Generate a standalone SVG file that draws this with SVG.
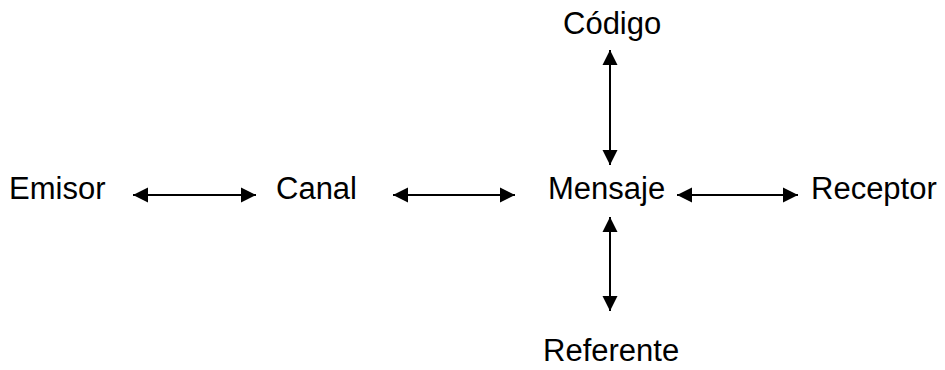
<svg xmlns="http://www.w3.org/2000/svg" width="945" height="370" viewBox="0 0 945 370">
<style>
text{font-family:"Liberation Sans",Arial,sans-serif;font-size:31px;fill:#000}
.c line{stroke:#000;stroke-width:2}
</style>
<defs>
<marker id="ah" markerUnits="userSpaceOnUse" markerWidth="16" markerHeight="16" refX="15" refY="8" orient="auto-start-reverse" viewBox="0 0 16 16">
<path d="M0,0.5 L15,8 L0,15.5 Z" fill="#000"/>
</marker>
</defs>
<rect width="945" height="370" fill="#fff"/>
<g id="emisor"><text x="9" y="199">Emisor</text></g>
<g id="canal"><text x="276" y="199">Canal</text></g>
<g id="mensaje"><text x="548" y="199">Mensaje</text></g>
<g id="receptor"><text x="811" y="199">Receptor</text></g>
<g id="codigo"><text x="563" y="34">Código</text></g>
<g id="referente"><text x="543" y="361">Referente</text></g>
<g class="c" id="connectors">
<line x1="133" y1="195" x2="256" y2="195" marker-start="url(#ah)" marker-end="url(#ah)"/>
<line x1="393" y1="195" x2="515" y2="195" marker-start="url(#ah)" marker-end="url(#ah)"/>
<line x1="677" y1="195" x2="798" y2="195" marker-start="url(#ah)" marker-end="url(#ah)"/>
<line x1="610" y1="50" x2="610" y2="165" marker-start="url(#ah)" marker-end="url(#ah)"/>
<line x1="610" y1="217" x2="610" y2="311" marker-start="url(#ah)" marker-end="url(#ah)"/>
</g>
</svg>
